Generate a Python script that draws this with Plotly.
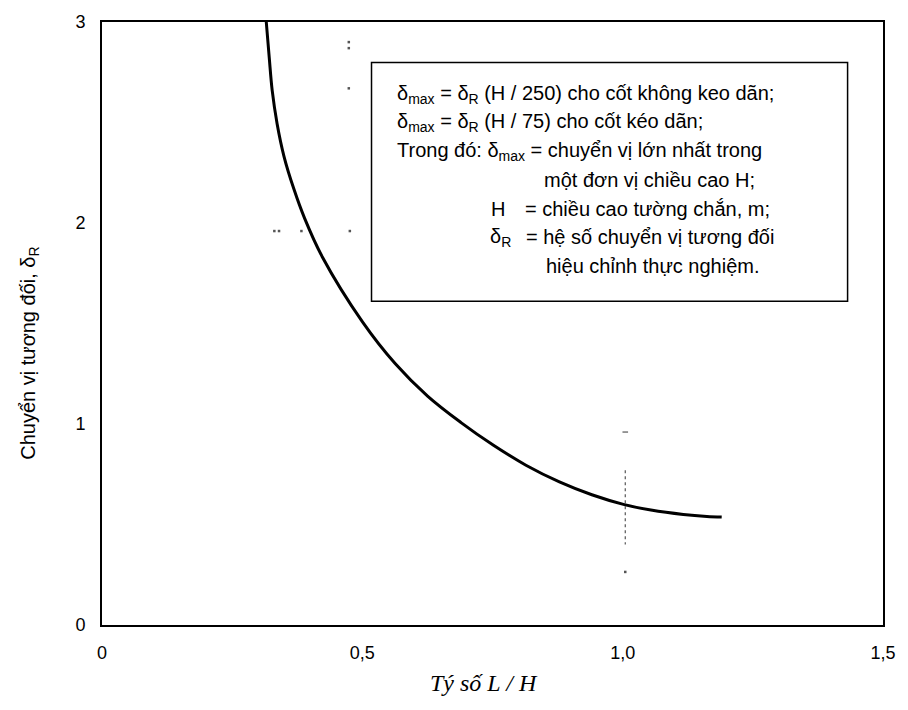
import plotly.graph_objects as go

# ---- data ----
curve_x = [0.3155, 0.3212, 0.3268, 0.3363, 0.3495, 0.3684, 0.3892, 0.4232,
           0.5006, 0.5630, 0.6253, 0.6896, 0.7519, 0.8142, 0.8785, 0.9408, 1.0032,
           1.0542, 1.1165, 1.1618, 1.1902]
curve_y = [3.000, 2.823, 2.661, 2.494, 2.332, 2.170, 2.023, 1.831,
           1.507, 1.301, 1.139, 1.007, 0.894, 0.795, 0.712, 0.648, 0.599,
           0.572, 0.550, 0.540, 0.537]

# faint scan residue marks
vdash_x = [1.005, 1.005]
vdash_y = [0.77, 0.40]
dot_x = [1.005, 0.474, 0.474, 0.474, 0.331, 0.340, 0.383, 0.476]
dot_y = [0.264, 2.90, 2.87, 2.67, 1.96, 1.96, 1.96, 1.96]
tick_x = [1.005]
tick_y = [0.96]

x_tickvals = [0, 0.5, 1.0, 1.5]
x_ticktext = ["0", "0,5", "1,0", "1,5"]
y_tickvals = [0, 1, 2, 3]
y_ticktext = ["0", "1", "2", "3"]

legend_lines = [
    ("δ<sub>max</sub> = δ<sub>R</sub> (H / 250) cho cốt không keo dãn;", 400, 87),
    ("δ<sub>max</sub> = δ<sub>R</sub> (H / 75) cho cốt kéo dãn;", 400, 116),
    ("Trong đó: δ<sub>max</sub> = chuyển vị lớn nhất trong", 400, 145),
    ("một đơn vị chiều cao H;", 549, 174),
    ("H", 495, 203),
    ("= chiều cao tường chắn, m;", 530, 203),
    ("δ<sub>R</sub>", 494, 232),
    ("= hệ số chuyển vị tương đối", 531, 232),
    ("hiệu chỉnh thực nghiệm.", 551, 261),
]

W, H = 908, 710
L, R, T, B = 102, 12, 14, 85
PW, PH = W - L - R, H - T - B

def px2paper_x(px):
    return (px - L) / PW

def px2paper_y(py):
    return (H - B - py) / PH

fig = go.Figure()
fig.add_trace(go.Scatter(x=vdash_x, y=vdash_y, mode="lines",
                         line=dict(color="#555555", width=1.2, dash="dot"),
                         hoverinfo="skip", showlegend=False))
fig.add_trace(go.Scatter(x=dot_x, y=dot_y, mode="markers",
                         marker=dict(color="#555555", size=2.5, symbol="square"),
                         hoverinfo="skip", showlegend=False))
fig.add_trace(go.Scatter(x=tick_x, y=tick_y, mode="markers",
                         marker=dict(color="#555555", size=4, symbol="line-ew",
                                     line=dict(color="#555555", width=1.2)),
                         hoverinfo="skip", showlegend=False))
fig.add_trace(go.Scatter(x=curve_x, y=curve_y, mode="lines",
                         line=dict(color="black", width=3, shape="spline", smoothing=1.0),
                         showlegend=False))

# legend box
fig.add_shape(type="rect", xref="paper", yref="paper",
              x0=px2paper_x(376), x1=px2paper_x(860),
              y0=px2paper_y(297), y1=px2paper_y(55),
              line=dict(color="black", width=1.5), fillcolor="white", layer="above")

font_main = "Liberation Sans, Arial, sans-serif"
for txt, px, py in legend_lines:
    fig.add_annotation(text=txt, xref="paper", yref="paper",
                       x=px2paper_x(px), y=px2paper_y(py),
                       xanchor="left", yanchor="middle", showarrow=False,
                       font=dict(family=font_main, size=20, color="black"))

# axis titles
fig.add_annotation(text="<i>Tý số L / H</i>", xref="paper", yref="paper",
                   x=px2paper_x(490), y=px2paper_y(684),
                   xanchor="center", yanchor="middle", showarrow=False,
                   font=dict(family="Liberation Serif, Times New Roman, serif", size=24, color="black"))
fig.add_annotation(text="Chuyển vị tương đối, δ<sub>R</sub>", xref="paper", yref="paper",
                   x=px2paper_x(28), y=px2paper_y(350), textangle=-90,
                   xanchor="center", yanchor="middle", showarrow=False,
                   font=dict(family=font_main, size=20, color="black"))

fig.update_layout(
    width=W, height=H,
    margin=dict(l=L, r=R, t=T, b=B),
    paper_bgcolor="white", plot_bgcolor="white",
    font=dict(family=font_main, size=18, color="black"),
    showlegend=False,
)
fig.update_xaxes(range=[0, 1.5], tickvals=x_tickvals, ticktext=x_ticktext,
                 showgrid=False, zeroline=False, showline=True, mirror=True,
                 linecolor="black", linewidth=2, ticks="", ticklabelstandoff=10,
                 tickfont=dict(size=18))
fig.update_yaxes(range=[0, 3], tickvals=y_tickvals, ticktext=y_ticktext,
                 showgrid=False, zeroline=False, showline=True, mirror=True,
                 linecolor="black", linewidth=2, ticks="", ticklabelstandoff=11,
                 tickfont=dict(size=18))

fig.write_html("out.html",
               config={"displayModeBar": False},
               post_script="document.body.style.margin='0px';document.body.style.overflow='hidden';")
